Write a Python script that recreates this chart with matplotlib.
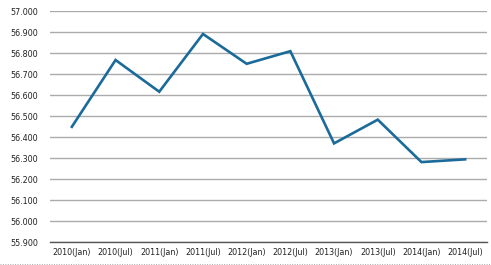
import matplotlib
matplotlib.use("Agg")
import matplotlib.pyplot as plt
from matplotlib.lines import Line2D

categories = ["2010(Jan)", "2010(Jul)", "2011(Jan)", "2011(Jul)", "2012(Jan)",
              "2012(Jul)", "2013(Jan)", "2013(Jul)", "2014(Jan)", "2014(Jul)"]
values = [56.450, 56.768, 56.617, 56.892, 56.750, 56.810, 56.371, 56.484, 56.282, 56.295]
yticks = [55.9, 56.0, 56.1, 56.2, 56.3, 56.4, 56.5, 56.6, 56.7, 56.8, 56.9, 57.0]

plt.rcParams['font.family'] = ['DejaVu Sans']
fig = plt.figure(figsize=(4.91, 2.65), dpi=100)
ax = fig.add_axes([50/491, 1-242.3/265, (487-50)/491, 231/265])

x = list(range(len(categories)))
ax.plot(x, values, color="#1a6a9a", lw=1.9, solid_joinstyle="miter")
ax.set_xlim(-0.5, len(categories)-0.5)
ax.set_ylim(55.9, 57.0)
ax.set_yticks(yticks)
ax.set_yticklabels([f"{v:.3f}" for v in yticks], fontsize=5.8, color="#222222")
ax.set_xticks(x)
ax.set_xticklabels(categories, fontsize=5.8, color="#222222")
ax.tick_params(length=0, pad=4)
ax.tick_params(axis='y', pad=8.5)
ax.grid(axis='y', color="#ababab", lw=1.0)
ax.set_axisbelow(True)
for s in ["top", "right", "left"]:
    ax.spines[s].set_visible(False)
ax.spines["bottom"].set_color("#555555")
ax.spines["bottom"].set_linewidth(1.0)
ax.spines["bottom"].set_zorder(3)

fig.add_artist(Line2D([0, 1], [1.5/265, 1.5/265], transform=fig.transFigure,
                      color="#aaaaaa", lw=0.7, ls=(0, (1, 1.5))))
fig.savefig("out.png", dpi=100)
